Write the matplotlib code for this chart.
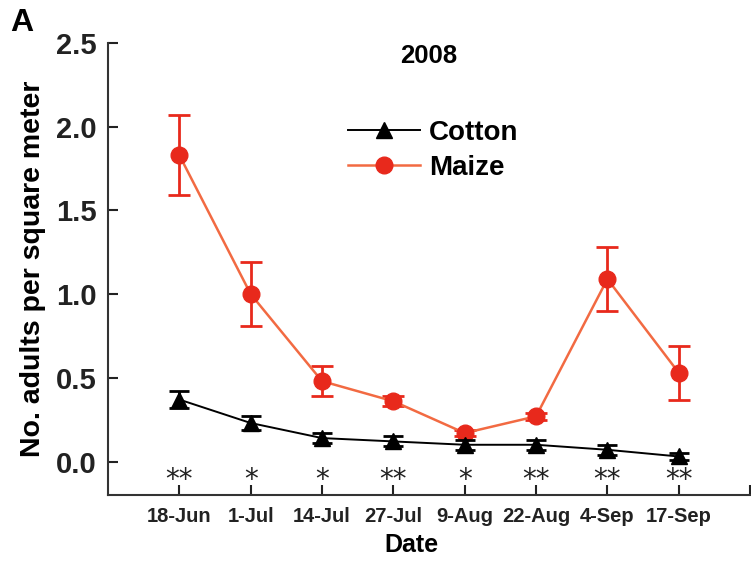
import matplotlib
matplotlib.use("Agg")
import matplotlib.pyplot as plt
from matplotlib.lines import Line2D

dates = ["18-Jun", "1-Jul", "14-Jul", "27-Jul", "9-Aug", "22-Aug", "4-Sep", "17-Sep"]
cotton = [0.37, 0.23, 0.14, 0.12, 0.10, 0.10, 0.07, 0.03]
cotton_err = [0.05, 0.04, 0.03, 0.03, 0.03, 0.03, 0.03, 0.02]
maize = [1.83, 1.00, 0.48, 0.36, 0.17, 0.27, 1.09, 0.53]
maize_err = [0.24, 0.19, 0.09, 0.03, 0.02, 0.02, 0.19, 0.16]
signif = ["**", "*", "*", "**", "*", "**", "**", "**"]

plt.rcParams["font.family"] = ["Liberation Sans", "DejaVu Sans"]
plt.rcParams["font.weight"] = "bold"

maize_line = "#f26a42"
maize_dot = "#e8291c"

fig = plt.figure(figsize=(7.51, 5.63), dpi=100)
ax = fig.add_axes([0.1438, 0.1208, 0.855, 0.8028])

x = list(range(1, len(dates) + 1))
ax.errorbar(x, maize, yerr=maize_err, color=maize_line, ecolor=maize_dot,
            marker="o", ms=12, mfc=maize_dot, mec=maize_dot, lw=1.8,
            elinewidth=2, capsize=8, capthick=2, zorder=3)
ax.errorbar(x, cotton, yerr=cotton_err, color="black", marker="^", ms=11,
            lw=1.4, elinewidth=2, capsize=7, capthick=2, zorder=4)

# significance marks under each date
for xi, s in zip(x, signif):
    ax.text(xi, -0.11, s, ha="center", va="center", fontsize=20,
            fontweight="normal", color="#222222", family="DejaVu Sans")

ax.set_xlim(0, 9)
ax.set_ylim(-0.2, 2.5)
ax.set_xticks(x + [9])
ax.set_xticklabels(dates + [""], fontsize=14.5, fontweight="bold")
ax.set_yticks([0.0, 0.5, 1.0, 1.5, 2.0, 2.5])
ax.set_yticklabels(["0.0", "0.5", "1.0", "1.5", "2.0", "2.5"], fontsize=21, fontweight="bold")
ax.tick_params(direction="in", length=7, width=1.5, colors="#222222")
ax.tick_params(axis="y", pad=8)
ax.tick_params(axis="x", pad=9)
for side in ("top", "right"):
    ax.spines[side].set_visible(False)
for side in ("left", "bottom"):
    ax.spines[side].set_linewidth(1.5)
    ax.spines[side].set_color("#333333")

ax.set_xlabel("Date", fontsize=18, fontweight="bold", va="center")
ax.xaxis.set_label_coords(0.472, -0.111)
ax.set_ylabel("No. adults per square meter", fontsize=20.5, fontweight="bold", va="center")
ax.yaxis.set_label_coords(-0.117, 0.5)
ax.text(4.49, 2.42, "2008", ha="center", va="center", fontsize=18.5, fontweight="bold")

handles = [
    Line2D([], [], color="black", marker="^", ms=11, lw=1.4),
    Line2D([], [], color=maize_line, marker="o", ms=12, mfc=maize_dot, mec=maize_dot, lw=1.8),
]
ax.legend(handles, ["Cotton", "Maize"], loc="upper left",
          bbox_to_anchor=(0.335, 0.885), frameon=False, fontsize=20,
          handlelength=2.6, handletextpad=0.3, labelspacing=0.32)

fig.text(0.013, 0.96, "A", fontsize=23, fontweight="bold", va="center")

fig.savefig("out.png", dpi=100)
